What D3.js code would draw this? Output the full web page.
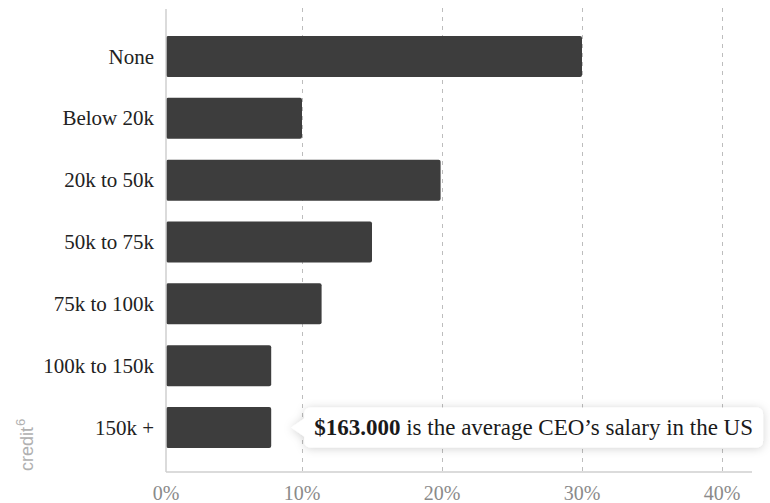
<!DOCTYPE html>
<html>
<head>
<meta charset="utf-8">
<script src="https://cdn.jsdelivr.net/npm/d3@7"></script>
<style>
  html, body { margin: 0; padding: 0; background: #fff; }
  svg { display: block; }
</style>
</head>
<body>
<svg id="chart" width="770" height="503"></svg>
<script>
const categories = ["None", "Below 20k", "20k to 50k", "50k to 75k", "75k to 100k", "100k to 150k", "150k +"];
const values = [30, 10, 19.9, 15, 11.4, 7.8, 7.8];
const tickValues = [0, 10, 20, 30, 40];
const annotationBold = "$163.000";
const annotationRest = " is the average CEO\u2019s salary in the US";
const creditText = "credit";
const creditSup = "6";

(function () {
const svg = d3.select("#chart");
const serif = "'Liberation Serif', serif";

const x = d3.scaleLinear().domain([0, 40]).range([162, 722]);
const y = d3.scaleBand().domain(categories).range([5, 479]).paddingInner(0.337).paddingOuter(0.5);

const axisX = 166, axisBottom = 472, axisTop = 9, axisRight = 752;

const defs = svg.append("defs");
const f = defs.append("filter").attr("id", "shadow").attr("x", "-20%").attr("y", "-60%").attr("width", "140%").attr("height", "220%");
f.append("feDropShadow").attr("dx", 0).attr("dy", 1).attr("stdDeviation", 5).attr("flood-color", "#000").attr("flood-opacity", 0.18);

svg.append("g").selectAll("line").data(tickValues.filter(d => d > 0)).join("line")
  .attr("x1", d => Math.round(x(d)) + 0.5).attr("x2", d => Math.round(x(d)) + 0.5)
  .attr("y1", 8).attr("y2", axisBottom)
  .attr("stroke", "#bdbdbd").attr("stroke-width", 1).attr("stroke-dasharray", "4,5");

svg.append("g").selectAll("rect").data(categories).join("rect")
  .attr("x", axisX)
  .attr("y", d => y(d))
  .attr("width", (d, i) => x(values[i]) - axisX)
  .attr("height", y.bandwidth())
  .attr("rx", 2).attr("ry", 2)
  .attr("fill", "#3d3d3d");

svg.append("line").attr("x1", axisX).attr("x2", axisX).attr("y1", axisTop).attr("y2", axisBottom)
  .attr("stroke", "#cfcfcf").attr("stroke-width", 1.5);
svg.append("line").attr("x1", axisX).attr("x2", axisRight).attr("y1", axisBottom).attr("y2", axisBottom)
  .attr("stroke", "#cfcfcf").attr("stroke-width", 1.5);

svg.append("g").selectAll("text").data(categories).join("text")
  .attr("x", 154)
  .attr("y", d => y(d) + y.bandwidth() / 2)
  .attr("dy", "0.34em")
  .attr("text-anchor", "end")
  .attr("font-family", serif).attr("font-size", 21).attr("fill", "#222")
  .text(d => d);

svg.append("g").selectAll("text").data(tickValues).join("text")
  .attr("x", d => d === 0 ? axisX : x(d))
  .attr("y", 500)
  .attr("text-anchor", "middle")
  .attr("font-family", serif).attr("font-size", 20).attr("fill", "#8a8a8a")
  .text(d => d + "%");

const credit = svg.append("text")
  .attr("transform", "translate(33,471) rotate(-90)")
  .attr("font-family", "'Liberation Sans', Arial, sans-serif").attr("font-size", 18).attr("fill", "#b0b0b0");
credit.append("tspan").text(creditText);
credit.append("tspan").attr("font-size", 13).attr("dy", -8).attr("dx", 1).text(creditSup);

const lastCat = categories[categories.length - 1];
const cy = y(lastCat) + y.bandwidth() / 2;
const tipX = x(values[values.length - 1]) + 20;
const boxX = tipX + 13, boxH = 40, padX = 10;
const ann = svg.append("g");
const bg = ann.append("path").attr("fill", "#fff").attr("filter", "url(#shadow)");
const txt = ann.append("text")
  .attr("x", boxX + padX).attr("y", cy).attr("dy", "0.34em")
  .attr("font-family", serif).attr("font-size", 23).attr("fill", "#1a1a1a");
txt.append("tspan").attr("font-weight", "bold").text(annotationBold);
txt.append("tspan").text(annotationRest);
const tw = txt.node().getComputedTextLength();
const boxW = tw + padX * 2;
const r = 6, bTop = cy - boxH / 2, bBot = cy + boxH / 2, bRight = boxX + boxW;
const p = d3.path();
p.moveTo(boxX + r, bTop);
p.lineTo(bRight - r, bTop);
p.arcTo(bRight, bTop, bRight, bTop + r, r);
p.lineTo(bRight, bBot - r);
p.arcTo(bRight, bBot, bRight - r, bBot, r);
p.lineTo(boxX + r, bBot);
p.arcTo(boxX, bBot, boxX, bBot - r, r);
p.lineTo(boxX, cy + 9);
p.lineTo(tipX, cy);
p.lineTo(boxX, cy - 9);
p.lineTo(boxX, bTop + r);
p.arcTo(boxX, bTop, boxX + r, bTop, r);
p.closePath();
bg.attr("d", p.toString());
})();
</script>
</body>
</html>
